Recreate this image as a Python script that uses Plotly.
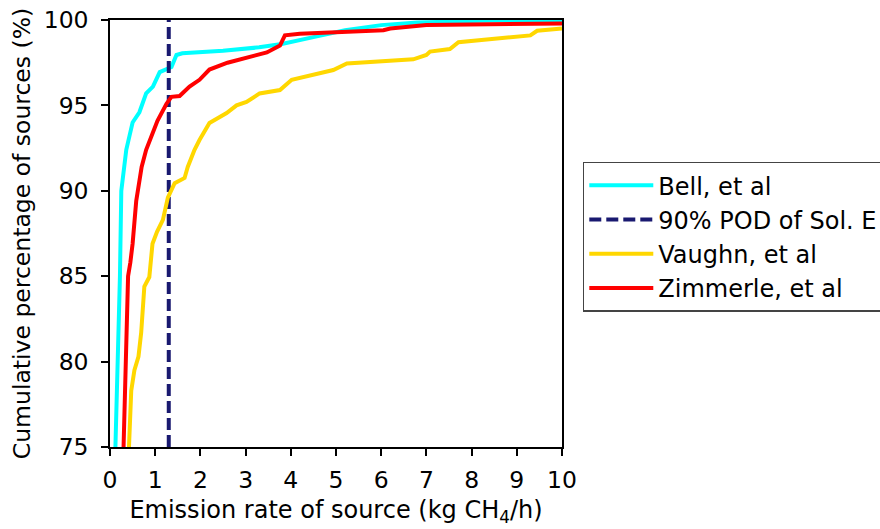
import plotly.graph_objects as go

# ---- data ----
bell_x = [0.12, 0.18, 0.22, 0.25, 0.30, 0.36, 0.43, 0.50, 0.65, 0.80, 0.95, 1.10, 1.36, 1.47,
          1.60, 2.5, 3.3, 3.8, 4.5, 5.2, 6.0, 6.8, 8.8, 10]
bell_y = [75, 80, 85, 90, 91.2, 92.4, 93.2, 94.0, 94.6, 95.7, 96.1, 96.95, 97.25, 97.95,
          98.05, 98.2, 98.4, 98.6, 99.0, 99.4, 99.7, 99.85, 100, 100]

zim_x = [0.30, 0.34, 0.40, 0.45, 0.50, 0.58, 0.61, 0.70, 0.80, 0.91, 1.05, 1.25, 1.36, 1.54,
         1.76, 1.98, 2.2, 2.6, 3.0, 3.47, 3.76, 3.87, 4.2, 6.05, 6.2, 7.0, 10]
zim_y = [75, 80, 85, 85.8, 86.9, 89.4, 90.0, 91.4, 92.4, 93.15, 94.1, 95.1, 95.5, 95.55,
         96.1, 96.5, 97.1, 97.5, 97.8, 98.1, 98.5, 99.1, 99.2, 99.4, 99.5, 99.7, 99.8]

vau_x = [0.42, 0.47, 0.54, 0.63, 0.69, 0.76, 0.87, 0.94, 1.04, 1.17, 1.28, 1.43, 1.65, 1.72,
         1.87, 1.98, 2.2, 2.58, 2.8, 3.02, 3.31, 3.76, 4.02, 4.94, 5.24, 6.71, 7.0, 7.08,
         7.52, 7.71, 9.3, 9.45, 10]
vau_y = [75, 78.3, 79.5, 80.3, 81.7, 84.4, 84.95, 86.9, 87.6, 88.3, 89.6, 90.45, 90.75, 91.4,
         92.4, 92.97, 93.97, 94.55, 95.0, 95.2, 95.7, 95.9, 96.5, 97.07, 97.46, 97.7, 97.95, 98.15,
         98.3, 98.7, 99.1, 99.37, 99.5]

pod_x = [1.3, 1.3]
pod_y = [75, 100]

x_ticks = [0, 1, 2, 3, 4, 5, 6, 7, 8, 9, 10]
y_ticks = [75, 80, 85, 90, 95, 100]

FONT = "DejaVu Sans"

fig = go.Figure()
fig.add_trace(go.Scatter(x=bell_x, y=bell_y, mode="lines", name="Bell, et al",
                         line=dict(color="#00FFFF", width=4), legendgroup="a"))
fig.add_trace(go.Scatter(x=pod_x, y=pod_y, mode="lines", name="90% POD of Sol. E",
                         line=dict(color="#191970", width=4, dash="12px,5px"), legendgroup="b"))
fig.add_trace(go.Scatter(x=vau_x, y=vau_y, mode="lines", name="Vaughn, et al",
                         line=dict(color="#FFD700", width=4), legendgroup="c"))
fig.add_trace(go.Scatter(x=zim_x, y=zim_y, mode="lines", name="Zimmerle, et al",
                         line=dict(color="#FF0000", width=4), legendgroup="d"))

axis_common = dict(showline=True, linecolor="black", linewidth=1.5, mirror=True,
                   ticks="outside", ticklen=7, tickwidth=1.5, tickcolor="black",
                   showgrid=False, zeroline=False,
                   tickfont=dict(family=FONT, size=23.5, color="black"))

fig.update_xaxes(range=[0, 10], tickvals=x_ticks, ticklabelstandoff=4,
                 title=dict(text="Emission rate of source (kg CH<sub>4</sub>/h)",
                            font=dict(family=FONT, size=24, color="black"), standoff=8),
                 **axis_common)
fig.update_yaxes(range=[75, 100], tickvals=y_ticks, ticklabelstandoff=8,
                 title=dict(text="Cumulative percentage of sources (%)",
                            font=dict(family=FONT, size=23.5, color="black"), standoff=6),
                 **axis_common)

fig.update_layout(
    width=880, height=529,
    margin=dict(l=110, r=318, t=20, b=82, autoexpand=False),
    plot_bgcolor="white", paper_bgcolor="white",
    font=dict(family=FONT, color="black"),
    legend=dict(x=1.046, y=0.668, xanchor="left", yanchor="top",
                bordercolor="#444444", borderwidth=1.5, bgcolor="white",
                font=dict(family=FONT, size=24, color="black"),
                tracegroupgap=0, itemwidth=64),
)

fig.write_html("out.html")
